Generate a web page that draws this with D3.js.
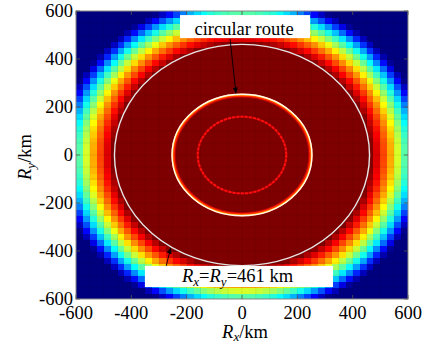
<!DOCTYPE html>
<html>
<head>
<meta charset="utf-8">
<script src="https://cdn.jsdelivr.net/npm/d3@7"></script>
</head>
<body style="margin:0;padding:0;background:#fff">
<svg id="chart" width="436" height="341" style="display:block;font-family:'Liberation Serif'"></svg>
<script>
// ---------------- data ----------------
const xTicks = [-600, -400, -200, 0, 200, 400, 600];
const yTicks = [-600, -400, -200, 0, 200, 400, 600];
// radial profile of the plotted quantity (radius km -> normalized level)
const profileRadius = [0, 465, 490, 515, 540, 560, 580, 600, 620, 640, 655, 668, 1000];
const profileLevel  = [1, 1, 0.9, 0.8, 0.7, 0.6, 0.5, 0.4, 0.28, 0.15, 0.06, 0, 0];
const cellSize = 25;       // km
const gridStep = 50;       // km, faint cell edges
const routeRadius = 461;   // km, outer circular route
const innerRingRadius = 253;
const innerCircleRadius = 160;
const labelRoute = "circular route";
// annotation anchors in data coordinates (km)
const arrow1 = {from: [-43, 483], to: [-22, 258]};
const arrow2 = {from: [-275, -467], to: [-258, -388]};
const box1 = {x0: -224, x1: 246, y0: 583, y1: 487};
const box2 = {x0: -351, x1: 329, y0: -462, y1: -550};

// ---------------- layout ----------------
const FONT = '"Liberation Serif"';
const svg = d3.select("#chart");
const x = d3.scaleLinear().domain([-600, 600]).range([76, 408]);
const y = d3.scaleLinear().domain([-600, 600]).range([299, 11]);
const level = d3.scaleLinear().domain(profileRadius).range(profileLevel).clamp(true);
const jet = d3.scaleLinear()
  .domain([0, 0.125, 0.375, 0.625, 0.875, 1])
  .range(["#00007f", "#0000ff", "#00ffff", "#ffff00", "#ff0000", "#7f0000"])
  .clamp(true);

svg.append("defs").append("clipPath").attr("id", "clip")
  .append("rect").attr("x", x(-600)).attr("y", y(600))
  .attr("width", x(600) - x(-600)).attr("height", y(-600) - y(600));

const plot = svg.append("g").attr("clip-path", "url(#clip)");

// heatmap cells
const centers = d3.range(-600 + cellSize / 2, 600, cellSize);
const cells = [];
centers.forEach(cx => centers.forEach(cy => cells.push({cx, cy, v: level(Math.hypot(cx, cy))})));
plot.append("g").attr("shape-rendering", "crispEdges")
  .selectAll("rect").data(cells).join("rect")
  .attr("x", d => x(d.cx - cellSize / 2))
  .attr("y", d => y(d.cy + cellSize / 2))
  .attr("width", x(cellSize) - x(0) + 0.6)
  .attr("height", y(0) - y(cellSize) + 0.6)
  .attr("fill", d => jet(d.v));

// faint cell edges
const gl = d3.range(-600, 601, gridStep);
const grid = plot.append("g").attr("stroke", "#000").attr("stroke-opacity", 0.12).attr("stroke-width", 0.6);
grid.selectAll("line.v").data(gl).join("line").attr("class", "v")
  .attr("x1", d => x(d)).attr("x2", d => x(d)).attr("y1", y(-600)).attr("y2", y(600));
grid.selectAll("line.h").data(gl).join("line").attr("class", "h")
  .attr("y1", d => y(d)).attr("y2", d => y(d)).attr("x1", x(-600)).attr("x2", x(600));

function ell(g, r, stroke, w, dash) {
  const e = g.append("ellipse")
    .attr("cx", x(0)).attr("cy", y(0))
    .attr("rx", x(r) - x(0)).attr("ry", y(0) - y(r))
    .attr("fill", "none").attr("stroke", stroke).attr("stroke-width", w);
  if (dash) e.attr("stroke-dasharray", dash);
  return e;
}
// inner red circle
ell(plot, innerCircleRadius, "#b00000", 2.4);
ell(plot, innerCircleRadius, "#ff1010", 1.8, "3 1.2");
// inner ring (red / orange / white)
ell(plot, innerRingRadius - 8, "#c00000", 3);
ell(plot, innerRingRadius - 4, "#ff2a00", 3);
ell(plot, innerRingRadius - 1.5, "#ffb000", 1.6);
ell(plot, innerRingRadius, "#fff8ee", 1.4);
// outer circular route
ell(plot, routeRadius, "#e6e6e6", 1.4);

// frame
svg.append("rect").attr("x", x(-600)).attr("y", y(600))
  .attr("width", x(600) - x(-600)).attr("height", y(-600) - y(600))
  .attr("fill", "none").attr("stroke", "#8a8a8a").attr("stroke-width", 1);

// ticks (inside, all sides)
const tk = svg.append("g").attr("stroke", "#555").attr("stroke-width", 0.8);
xTicks.forEach(t => {
  tk.append("line").attr("x1", x(t)).attr("x2", x(t)).attr("y1", y(-600)).attr("y2", y(-600) - 4);
  tk.append("line").attr("x1", x(t)).attr("x2", x(t)).attr("y1", y(600)).attr("y2", y(600) + 4);
});
yTicks.forEach(t => {
  tk.append("line").attr("y1", y(t)).attr("y2", y(t)).attr("x1", x(-600)).attr("x2", x(-600) + 4);
  tk.append("line").attr("y1", y(t)).attr("y2", y(t)).attr("x1", x(600)).attr("x2", x(600) - 4);
});

function txt(sel) {
  return sel.attr("font-family", "Liberation Serif").style("font-family", FONT).attr("font-size", 18.5).attr("fill", "#000");
}

// tick labels
txt(svg.append("g").selectAll("text").data(xTicks).join("text")
  .attr("x", d => x(d)).attr("y", y(-600) + 20)
  .attr("text-anchor", "middle"))
  .text(d => d);
txt(svg.append("g").selectAll("text").data(yTicks).join("text")
  .attr("x", x(-600) - 3).attr("y", d => y(d) + 6)
  .attr("text-anchor", "end"))
  .text(d => d);

// axis labels
const xl = txt(svg.append("text").attr("x", 245).attr("y", 338).attr("text-anchor", "middle"));
xl.append("tspan").attr("font-style", "italic").text("R");
xl.append("tspan").attr("font-style", "italic").attr("font-size", 13).attr("dy", 3).text("x");
xl.append("tspan").attr("dy", -3).text("/km");

const yl = txt(svg.append("text").attr("transform", "translate(31,157) rotate(-90)").attr("text-anchor", "middle"));
yl.append("tspan").attr("font-style", "italic").text("R");
yl.append("tspan").attr("font-style", "italic").attr("font-size", 13).attr("dy", 4).text("y");
yl.append("tspan").attr("dy", -4).text("/km");

// annotations
svg.append("defs").append("marker").attr("id", "ah")
  .attr("viewBox", "0 0 10 10").attr("refX", 9).attr("refY", 5)
  .attr("markerWidth", 7).attr("markerHeight", 7).attr("orient", "auto")
  .append("path").attr("d", "M0,1 L10,5 L0,9 Z").attr("fill", "#000");

[arrow1, arrow2].forEach(a => {
  svg.append("line")
    .attr("x1", x(a.from[0])).attr("y1", y(a.from[1]))
    .attr("x2", x(a.to[0])).attr("y2", y(a.to[1]))
    .attr("stroke", "#000").attr("stroke-width", 0.9)
    .attr("marker-end", "url(#ah)");
});

[box1, box2].forEach(b => {
  svg.append("rect").attr("x", x(b.x0)).attr("y", y(b.y0))
    .attr("width", x(b.x1) - x(b.x0)).attr("height", y(b.y1) - y(b.y0))
    .attr("fill", "#fff");
});

txt(svg.append("text").attr("x", (x(box1.x0) + x(box1.x1)) / 2 - 1).attr("y", 34.5)
  .attr("text-anchor", "middle"))
  .text(labelRoute);

const t2 = txt(svg.append("text").attr("x", 182).attr("y", 282));
t2.append("tspan").attr("font-style", "italic").text("R");
t2.append("tspan").attr("font-style", "italic").attr("font-size", 13).attr("dy", 4).text("x");
t2.append("tspan").attr("dy", -4).text("=");
t2.append("tspan").attr("font-style", "italic").text("R");
t2.append("tspan").attr("font-style", "italic").attr("font-size", 13).attr("dy", 4).text("y");
t2.append("tspan").attr("dy", -4).text("=" + routeRadius + " km");
</script>
</body>
</html>
